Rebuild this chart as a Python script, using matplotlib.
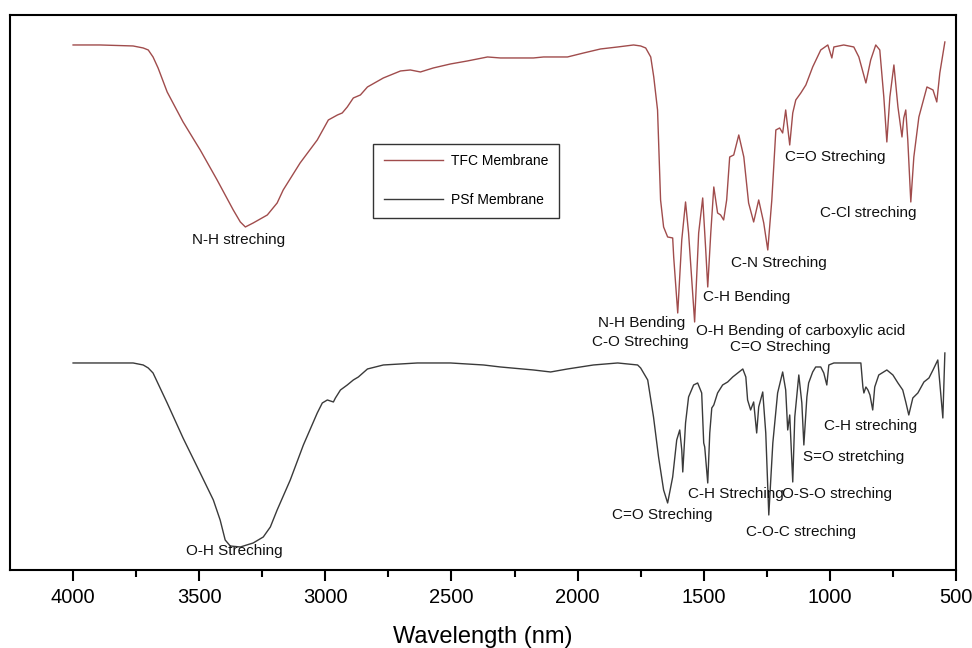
import matplotlib
matplotlib.use("Agg")
import matplotlib.pyplot as plt
import numpy as np

plt.rcParams['font.family'] = ['Liberation Sans', 'DejaVu Sans']

# ---------------- data ----------------
tfc_wn = [4000, 3893, 3762, 3722, 3702, 3683, 3663, 3627, 3564, 3496,
          3429, 3365, 3337, 3317, 3286, 3230, 3191, 3167, 3100, 3032,
          2988, 2952, 2933, 2913, 2889, 2861, 2833, 2770, 2702, 2663,
          2623, 2572, 2504, 2437, 2357, 2306, 2175, 2135, 2040, 1976,
          1909, 1841, 1778, 1750, 1730, 1710, 1698, 1683, 1671, 1659,
          1643, 1623, 1619, 1603, 1587, 1572, 1560, 1536, 1520, 1504,
          1492, 1484, 1472, 1460, 1445, 1433, 1421, 1409, 1397, 1381,
          1361, 1341, 1322, 1302, 1282, 1262, 1246, 1230, 1214, 1199,
          1187, 1175, 1159, 1147, 1135, 1115, 1095, 1068, 1036, 1008,
          992, 984, 945, 905, 885, 857, 838, 818, 802, 786,
          774, 762, 746, 730, 714, 707, 699, 691, 679, 667,
          647, 615, 591, 576, 564, 544]
tfc_t = [525, 525, 524, 522, 520, 513, 502, 478, 448, 420,
         390, 360, 348, 343, 347, 355, 367, 380, 407, 430,
         450, 455, 457, 463, 472, 475, 483, 492, 499, 500,
         498, 502, 506, 509, 513, 512, 512, 513, 513, 517,
         521, 523, 525, 524, 522, 513, 493, 460, 370, 343,
         333, 332, 313, 257, 330, 368, 337, 248, 337, 372,
         320, 283, 337, 383, 357, 355, 350, 370, 413, 415,
         435, 413, 367, 348, 370, 347, 320, 370, 440, 442,
         437, 460, 425, 457, 470, 477, 485, 503, 520, 525,
         512, 523, 525, 523, 513, 487, 510, 525, 520, 473,
         428, 473, 505, 463, 433, 452, 460, 430, 368, 413,
         453, 483, 480, 468, 497, 528]

psf_wn = [4000, 3893, 3762, 3722, 3702, 3683, 3655, 3627, 3564, 3496,
          3444, 3417, 3397, 3377, 3337, 3286, 3246, 3218, 3191, 3139,
          3087, 3032, 3012, 2992, 2980, 2968, 2960, 2940, 2913, 2889,
          2869, 2833, 2770, 2635, 2504, 2373, 2306, 2175, 2107, 2040,
          1937, 1841, 1762, 1750, 1722, 1699, 1679, 1659, 1643, 1623,
          1607, 1595, 1587, 1583, 1572, 1560, 1540, 1524, 1508, 1500,
          1496, 1484, 1476, 1468, 1460, 1445, 1425, 1405, 1385, 1365,
          1345, 1333, 1326, 1314, 1302, 1290, 1282, 1266, 1254, 1242,
          1226, 1207, 1187, 1175, 1167, 1159, 1147, 1139, 1123, 1111,
          1103, 1091, 1084, 1068, 1056, 1036, 1024, 1012, 1004, 984,
          877, 869, 865, 857, 849, 841, 830, 822, 806, 774,
          750, 730, 711, 699, 687, 671, 651, 627, 607, 591,
          572, 564, 552, 544]
psf_t = [207, 207, 207, 205, 202, 197, 182, 167, 132, 97,
         70, 50, 30, 24, 23, 27, 33, 43, 60, 90,
         125, 157, 167, 170, 169, 168, 172, 180, 185, 190,
         193, 201, 205, 207, 207, 205, 203, 200, 198, 201,
         205, 207, 205, 202, 190, 153, 113, 80, 67, 93,
         130, 140, 120, 98, 147, 173, 185, 187, 177, 127,
         123, 87, 137, 162, 165, 177, 185, 188, 193, 197,
         201, 193, 170, 160, 168, 137, 163, 178, 137, 55,
         127, 177, 198, 180, 140, 155, 88, 153, 195, 167,
         125, 173, 187, 198, 203, 203, 197, 185, 205, 207,
         207, 183, 177, 183, 180, 175, 160, 183, 195, 200,
         195, 187, 180, 168, 155, 172, 177, 188, 192, 200,
         210, 187, 152, 217]

# (text, wavenumber, transmittance) for peak labels
tfc_notes = [
    ("N-H streching", 3345, 330),
    ("C=O Streching", 980, 413),
    ("C-Cl streching", 849, 357),
    ("C-N Streching", 1203, 307),
    ("C-H Bending", 1330, 273),
    ("N-H Bending", 1746, 247),
    ("C-O Streching", 1752, 228),
    ("O-H Bending of carboxylic acid", 1115, 239),
    ("C=O Streching", 1195, 223),
]
psf_notes = [
    ("O-H Streching", 3361, 19),
    ("C=O Streching", 1663, 55),
    ("C-H Streching", 1373, 76),
    ("O-S-O streching", 972, 76),
    ("C-O-C streching", 1115, 38),
    ("S=O stretching", 905, 113),
    ("C-H streching", 838, 144),
]

# ---------------- figure ----------------
fig = plt.figure(figsize=(9.72, 6.48), dpi=100)
ax = fig.add_axes([0.0103, 0.1204, 0.9732, 0.8565])

ax.plot(tfc_wn, tfc_t, color='#a04c4c', lw=1.0, label='TFC Membrane')
ax.plot(psf_wn, psf_t, color='#3a3a3a', lw=1.0, label='PSf Membrane')

for txt, x, y in tfc_notes + psf_notes:
    ax.text(x, y, txt, ha='center', va='center', fontsize=11, color='#111111')

ax.set_xlim(4250, 500)
ax.set_ylim(0, 555)
ax.set_xticks([4000, 3500, 3000, 2500, 2000, 1500, 1000, 500])
ax.set_xticks(np.arange(3750, 500, -500), minor=True)
ax.set_yticks([])
ax.tick_params(axis='x', which='major', direction='out', length=8, width=1.5, labelsize=14.5, pad=5)
ax.tick_params(axis='x', which='minor', direction='out', length=5, width=1.5)
for s in ax.spines.values():
    s.set_linewidth(1.5)
ax.set_xlabel("Wavelength (nm)", fontsize=17, labelpad=14)

leg = ax.legend(loc='upper left', bbox_to_anchor=(0.384, 0.768), fontsize=10,
                handlelength=4.3, handletextpad=0.55, labelspacing=1.8,
                borderpad=0.75, borderaxespad=0, fancybox=False, framealpha=1,
                edgecolor='#333333')
leg.get_frame().set_linewidth(1.0)

fig.savefig("out.png", dpi=100)
